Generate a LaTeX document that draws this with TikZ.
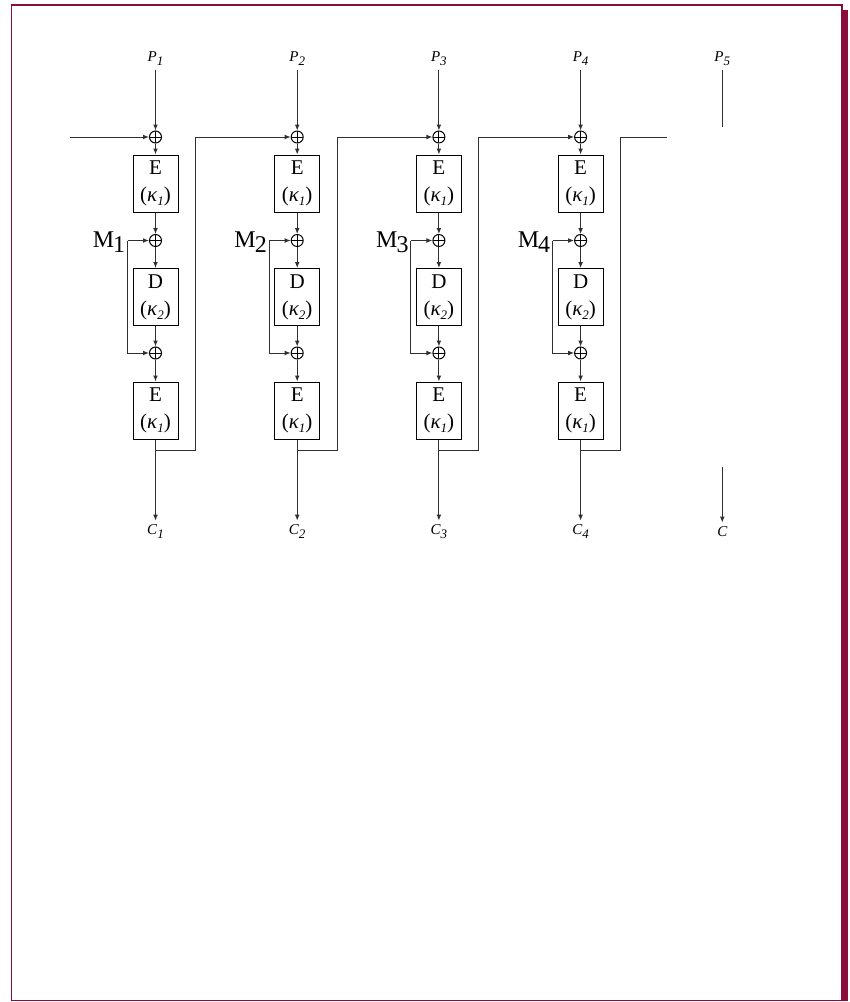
\documentclass[tikz,border=0pt]{standalone}
\usepackage{fontspec}
\setmainfont{Liberation Serif}
\usetikzlibrary{arrows.meta}
\definecolor{framex}{HTML}{8B0E3A}
\definecolor{linex}{HTML}{303030}
\tikzset{
  ar/.style={-{Latex[length=3pt,width=2.4pt]},linex,line width=0.5pt},
  ln/.style={linex,line width=0.5pt},
  box/.style={draw,line width=0.5pt,minimum width=22.5pt,minimum height=28.5pt,inner sep=0pt,align=center,font=\fontsize{10.5}{13.5}\selectfont},
  xo/.style={draw,line width=0.5pt,circle,minimum size=6pt,inner sep=0pt,
    path picture={\draw[line width=0.5pt] (path picture bounding box.north)--(path picture bounding box.south)
      (path picture bounding box.west)--(path picture bounding box.east);}},
  lab/.style={font=\fontsize{7.5}{9}\selectfont\itshape,inner sep=2pt},
  mlab/.style={font=\fontsize{12}{13}\selectfont,inner sep=0pt}
}
\newcommand{\lo}[1]{\raisebox{-2pt}{\fontsize{6.5}{7}\selectfont\itshape#1}}
\newcommand{\kk}[1]{(\textit{κ\lo{#1}})}
\begin{document}
\begin{tikzpicture}[x=0.5pt,y=-0.5pt]
\useasboundingbox (0,0) rectangle (850,1002);
% frame with shadow
\fill[framex] (842,9.5) rectangle (848,1001);
\draw[framex,line width=0.75pt] (11.7,5) rectangle (842,1000.5);
\foreach \i [evaluate=\i as \cx using 155.5+141.7*(\i-1)] in {1,...,4}{
  \node[lab] (p\i) at (\cx,59) {P\lo{\i}};
  \node[xo] (xa\i) at (\cx,137) {};
  \node[box] (ea\i) at (\cx,183.5) {E\\\kk{1}};
  \node[xo] (xb\i) at (\cx,240.5) {};
  \node[box] (d\i) at (\cx,297) {D\\\kk{2}};
  \node[xo] (xc\i) at (\cx,353) {};
  \node[box] (eb\i) at (\cx,410.5) {E\\\kk{1}};
  \node[lab] (c\i) at (\cx,532) {C\lo{\i}};
  \coordinate (mm\i) at (\cx-28,240.5);
  \node[mlab,anchor=base east] (m\i) at (\cx-30,247) {M\kern-0.5pt\raisebox{-2.5pt}{\i}};
  \coordinate (fb\i) at (\cx+40,450);
  \draw[ar] (p\i) -- (xa\i);
  \draw[ar] (xa\i) -- (ea\i);
  \draw[ar] (ea\i) -- (xb\i);
  \draw[ar] (xb\i) -- (d\i);
  \draw[ar] (d\i) -- (xc\i);
  \draw[ar] (xc\i) -- (eb\i);
  \draw[ar] (mm\i) -- (xb\i);
  \draw[ar] (mm\i) |- (xc\i);
  \draw[ar] (eb\i) -- (c\i);
}
% input and open end of the last stage
\coordinate (in) at (70,137);
\coordinate (xa5) at (667,137);
\draw[ar] (in) -- (xa1);
% feedback to the next stage
\foreach \i/\j in {1/2,2/3,3/4}
  \draw[ar] (eb\i.south) |- (fb\i) |- (xa\j);
\draw[ln] (eb4.south) |- (fb4) |- (xa5);
% fifth stage, only its ends
\node[lab] (p5) at (722.3,59) {P\lo{5}};
\coordinate (t5) at (722.3,127);
\coordinate (b5) at (722.3,467);
\node[lab] (c5) at (722.3,532) {C};
\draw[ln] (p5) -- (t5);
\draw[ar] (b5) -- (c5);
\end{tikzpicture}
\end{document}
